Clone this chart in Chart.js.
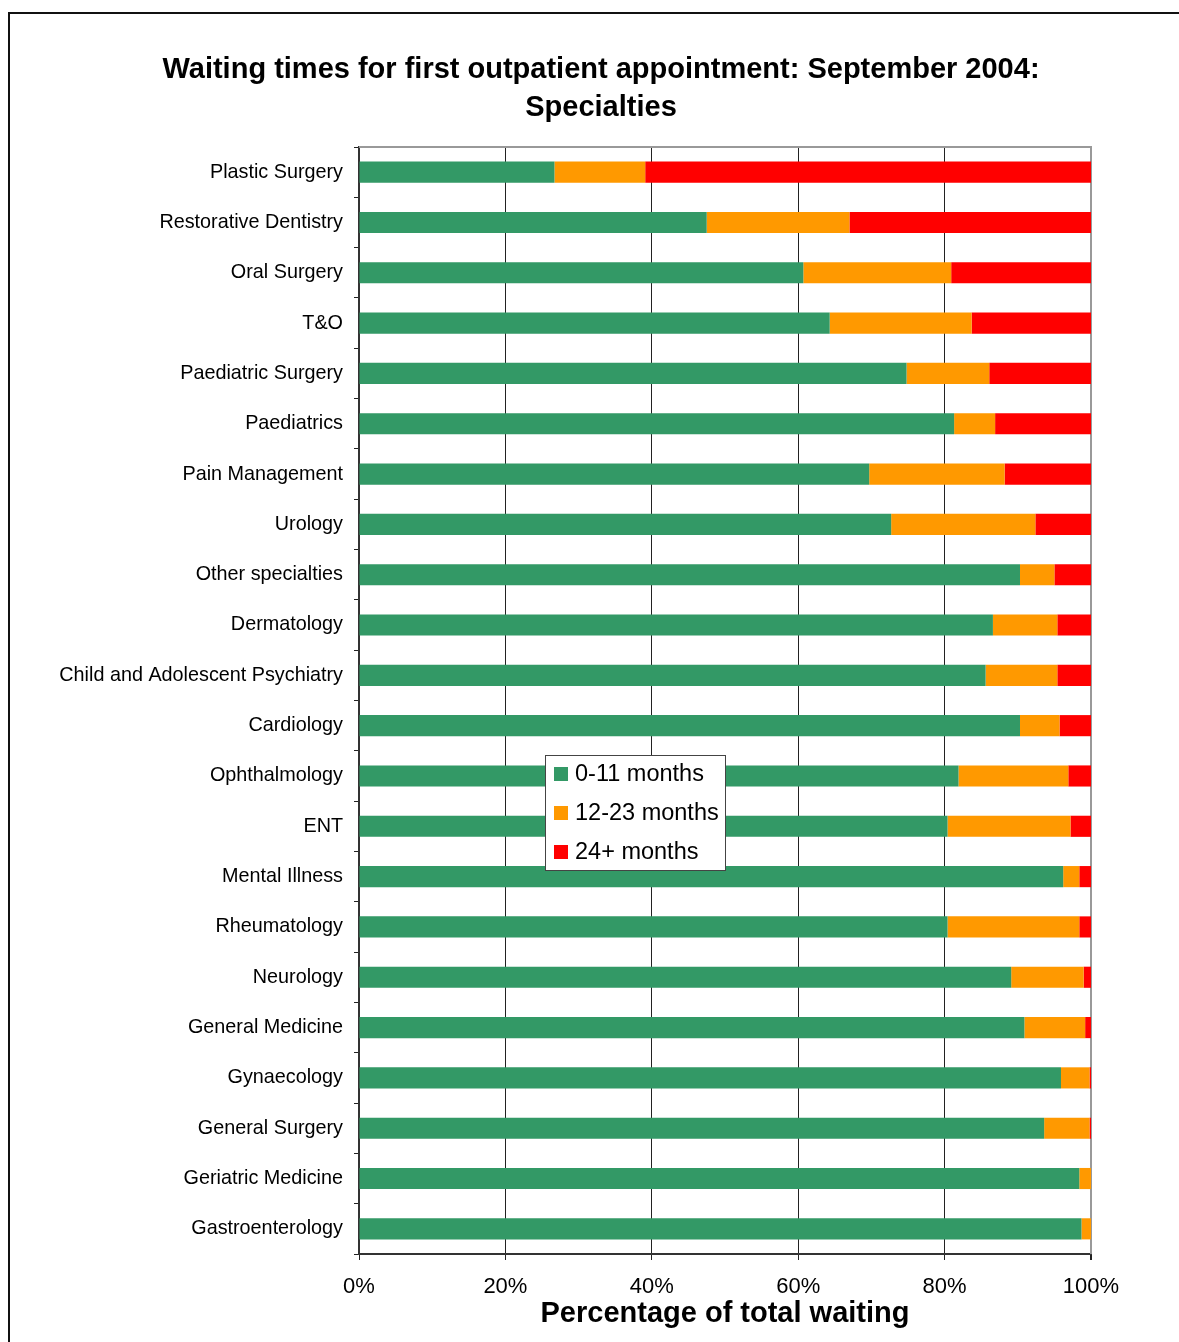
<!DOCTYPE html>
<html lang="en">

<head>
    <meta charset="UTF-8">
    <title>Waiting times for first outpatient appointment: September 2004</title>
    <script src="https://cdn.jsdelivr.net/npm/chart.js"></script>
    <style>
        body {
            margin: 0;
            background: #fff;
            overflow: hidden;
        }

        .frame {
            position: absolute;
            left: 8px;
            top: 12px;
            width: 1300px;
            height: 1400px;
            border-left: 2px solid #111;
            border-top: 2px solid #111;
        }

        #waitChart {
            position: absolute;
            left: 0;
            top: 0;
        }
    </style>
</head>

<body>
    <div class="frame"></div>
    <canvas id="waitChart" width="1179" height="1342"></canvas>

    <script>
        // specialties, top to bottom
        const specialties = [
            'Plastic Surgery', 'Restorative Dentistry', 'Oral Surgery', 'T&O',
            'Paediatric Surgery', 'Paediatrics', 'Pain Management', 'Urology',
            'Other specialties', 'Dermatology', 'Child and Adolescent Psychiatry',
            'Cardiology', 'Ophthalmology', 'ENT', 'Mental Illness', 'Rheumatology',
            'Neurology', 'General Medicine', 'Gynaecology', 'General Surgery',
            'Geriatric Medicine', 'Gastroenterology'
        ];

        // % of total waiting in each band
        const months0to11 = [
            26.7, 47.5, 60.7, 64.3, 74.8, 81.3, 69.7, 72.7, 90.3, 86.6, 85.6,
            90.3, 81.9, 80.4, 96.2, 80.4, 89.1, 90.9, 95.9, 93.6, 98.4, 98.7
        ];
        const months12to23 = [
            12.4, 19.5, 20.2, 19.4, 11.3, 5.6, 18.5, 19.7, 4.7, 8.8, 9.8,
            5.4, 15.0, 16.8, 2.2, 18.0, 9.9, 8.3, 3.9, 6.2, 1.6, 1.3
        ];
        const months24plus = [
            60.9, 33.0, 19.1, 16.3, 13.9, 13.1, 11.8, 7.6, 5.0, 4.6, 4.6,
            4.3, 3.1, 2.8, 1.6, 1.6, 1.0, 0.8, 0.2, 0.2, 0, 0
        ];

        const xTicks = [0, 20, 40, 60, 80, 100];

        const FONT = "'Liberation Sans', Arial, sans-serif";

        // gray border on top and right of the plot area
        const plotFrame = {
            id: 'plotFrame',
            beforeDatasetsDraw(chart) {
                const { ctx, chartArea: a } = chart;
                ctx.save();
                ctx.strokeStyle = '#999';
                ctx.lineWidth = 2;
                ctx.beginPath();
                ctx.moveTo(a.left, a.top);
                ctx.lineTo(a.right, a.top);
                ctx.lineTo(a.right, a.bottom);
                ctx.stroke();
                ctx.restore();
            }
        };

        // legend box floating inside the plot
        const boxLegend = {
            id: 'boxLegend',
            afterDatasetsDraw(chart) {
                const { ctx, chartArea: a } = chart;
                const x0 = a.left + 186;
                const y0 = a.top + 608;
                const w = 180, h = 115;
                ctx.save();
                ctx.fillStyle = '#fff';
                ctx.fillRect(x0, y0, w, h);
                ctx.strokeStyle = '#444';
                ctx.lineWidth = 1;
                ctx.strokeRect(x0 + 0.5, y0 + 0.5, w, h);
                ctx.font = '23.5px ' + FONT;
                ctx.textBaseline = 'middle';
                ctx.textAlign = 'left';
                chart.data.datasets.forEach(function (ds, i) {
                    const cy = y0 + 19 + i * 39;
                    ctx.fillStyle = ds.backgroundColor;
                    ctx.fillRect(x0 + 9, cy - 7, 14, 14);
                    ctx.fillStyle = '#000';
                    ctx.fillText(ds.label, x0 + 30, cy + 1);
                });
                ctx.restore();
            }
        };

        const ctx = document.getElementById('waitChart').getContext('2d');
        const waitChart = new Chart(ctx, {
            type: 'bar',
            data: {
                labels: specialties,
                datasets: [
                    { label: '0-11 months', data: months0to11, backgroundColor: '#339966' },
                    { label: '12-23 months', data: months12to23, backgroundColor: '#FF9900' },
                    { label: '24+ months', data: months24plus, backgroundColor: '#FF0000' }
                ]
            },
            options: {
                indexAxis: 'y',
                responsive: false,
                animation: false,
                layout: {
                    padding: { left: 23, right: 0, top: 0, bottom: 0 }
                },
                datasets: {
                    bar: {
                        borderWidth: 0,
                        categoryPercentage: 1,
                        barPercentage: 0.42
                    }
                },
                scales: {
                    x: {
                        stacked: true,
                        min: 0,
                        max: 100,
                        afterBuildTicks: function (scale) {
                            scale.ticks = xTicks.map(v => ({ value: v }));
                        },
                        afterFit: function (scale) {
                            scale.height = 88;
                        },
                        ticks: {
                            color: '#000',
                            padding: 14,
                            font: { family: FONT, size: 22 },
                            callback: v => v + '%'
                        },
                        grid: {
                            color: c => c.tick && c.tick.value === 100 ? '#999' : '#222',
                            lineWidth: c => c.tick && c.tick.value === 100 ? 2 : 1,
                            tickColor: '#222',
                            tickLength: 6
                        },
                        border: { color: '#333', width: 2 },
                        title: {
                            display: true,
                            text: 'Percentage of total waiting',
                            color: '#000',
                            padding: { top: 0, bottom: 11 },
                            font: { family: FONT, size: 29, weight: 'bold', lineHeight: '34px' }
                        }
                    },
                    y: {
                        stacked: true,
                        afterFit: function (scale) {
                            scale.width = 336;
                        },
                        ticks: {
                            color: '#000',
                            padding: 11,
                            autoSkip: false,
                            font: { family: FONT, size: 19.8 }
                        },
                        grid: {
                            drawOnChartArea: false,
                            color: '#222',
                            tickLength: 5
                        },
                        border: { color: '#333', width: 2 }
                    },
                    // empty right box so the plot stops short of the title's centre line
                    yR: {
                        type: 'linear',
                        position: 'right',
                        grid: { display: false },
                        ticks: { display: false },
                        border: { display: false },
                        afterFit: function (scale) {
                            scale.width = 88;
                        }
                    }
                },
                plugins: {
                    legend: { display: false },
                    tooltip: { enabled: false },
                    title: {
                        display: true,
                        text: ['Waiting times for first outpatient appointment: September 2004:', 'Specialties'],
                        color: '#000',
                        padding: { top: 51, bottom: 20 },
                        font: { family: FONT, size: 29, weight: 'bold', lineHeight: '38px' }
                    }
                }
            },
            plugins: [plotFrame, boxLegend]
        });
    </script>
</body>

</html>
